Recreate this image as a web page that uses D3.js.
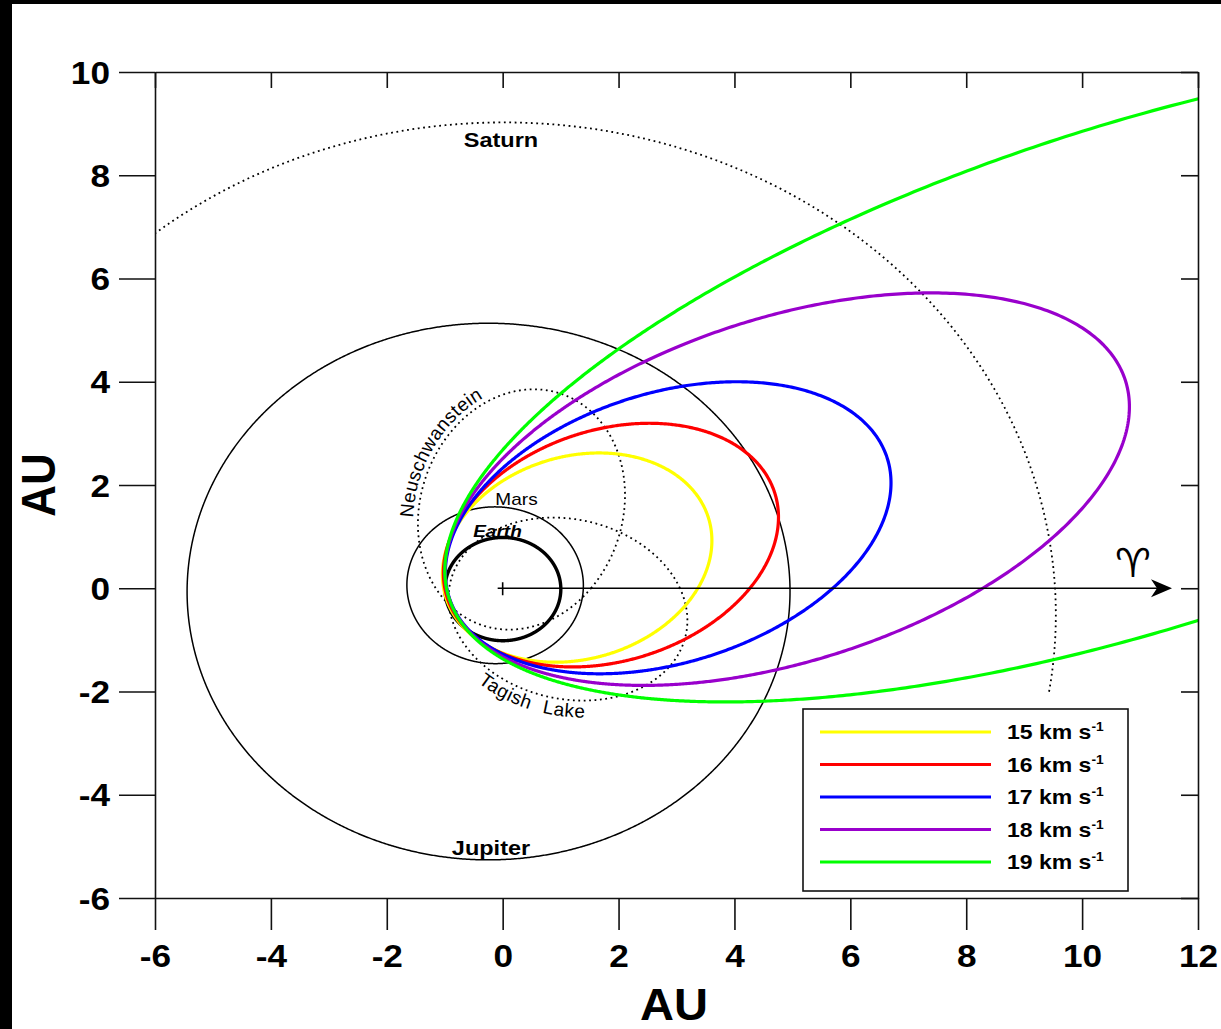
<!DOCTYPE html>
<html><head><meta charset="utf-8">
<script src="https://cdn.jsdelivr.net/npm/d3@7"></script>
<style>
body{margin:0;background:#fff;}
svg{display:block;}
text{font-family:"Liberation Sans",Arial,Helvetica,sans-serif;fill:#000;}
</style>
</head><body>
<svg id="c" width="1221" height="1029"></svg>
<script>
// ---------- data ----------
const xTicks = [-6,-4,-2,0,2,4,6,8,10,12];
const yTicks = [-6,-4,-2,0,2,4,6,8,10];
// planets: semi-major axis (AU), eccentricity, longitude of perihelion (deg)
const planetNames = ["Earth","Mars","Jupiter","Saturn"];
const planetA = [1.000, 1.524, 5.203, 9.537];
const planetE = [0.0167, 0.0934, 0.0484, 0.0539];
const planetPeri = [102.9, 336.0, 14.7, 92.6];
const saturnArc = [-12, 135]; // heliocentric longitudes (deg) of the drawn Saturn arc
// meteorite orbits
const meteoriteNames = ["Neuschwanstein","Tagish Lake"];
const meteoriteA = [2.35, 2.10];
const meteoriteE = [0.664, 0.57];
const meteoritePeri = [258.0, 160.3];
// orbits for entry speeds
const speedValues = [15,16,17,18,19];
const speedA = [2.40, 3.01, 4.02, 6.21, 12.7];
const speedE = [0.59, 0.68, 0.768, 0.849, 0.926];
const speedPeri = [204.8, 204.1, 202.3, 201.35, 200.5];
// styles
const speedColors = ["#ffff00","#ff0000","#0000ff","#9900cc","#00ff00"];

// ---------- setup ----------
const svg = d3.select("#c");
const W = 1221, H = 1029;
const L = 155, R = 1198, T = 72, B = 898;
const x = d3.scaleLinear().domain([-6,12]).range([L,R]);
const y = d3.scaleLinear().domain([-6,10]).range([B,T]);

svg.append("rect").attr("width",W).attr("height",H).attr("fill","#fff");
// black frame remnants
svg.append("rect").attr("x",0).attr("y",0).attr("width",12).attr("height",H).attr("fill","#000");
svg.append("rect").attr("x",0).attr("y",0).attr("width",W).attr("height",4).attr("fill","#000");

svg.append("defs").append("clipPath").attr("id","plotclip")
  .append("rect").attr("x",L).attr("y",T).attr("width",R-L).attr("height",B-T);

function orbitPts(a,e,peri,t0,t1,n){
  t0 = t0===undefined?0:t0; t1 = t1===undefined?360:t1; n = n||1440;
  const p = a*(1-e*e), w = peri*Math.PI/180, pts=[];
  for(let i=0;i<=n;i++){
    const th = (t0+(t1-t0)*i/n)*Math.PI/180;
    const r = p/(1+e*Math.cos(th-w));
    pts.push([r*Math.cos(th), r*Math.sin(th)]);
  }
  return pts;
}
const line = d3.line().x(d=>x(d[0])).y(d=>y(d[1]));

const g = svg.append("g").attr("clip-path","url(#plotclip)");

// planets
planetNames.forEach((nm,i)=>{
  let pts;
  if(nm==="Saturn") pts = orbitPts(planetA[i],planetE[i],planetPeri[i],saturnArc[0],saturnArc[1],600);
  else pts = orbitPts(planetA[i],planetE[i],planetPeri[i]);
  const path = g.append("path").attr("d",line(pts)).attr("fill","none").attr("stroke","#000");
  if(nm==="Earth") path.attr("stroke-width",3.4);
  else if(nm==="Saturn") path.attr("stroke-width",1.8).attr("stroke-dasharray","1.8,3.6");
  else path.attr("stroke-width",1.5);
});
// meteorite orbits (dotted)
meteoriteNames.forEach((nm,i)=>{
  g.append("path").attr("d",line(orbitPts(meteoriteA[i],meteoriteE[i],meteoritePeri[i])))
   .attr("fill","none").attr("stroke","#000").attr("stroke-width",1.8).attr("stroke-dasharray","1.8,3.6");
});

// offset path for curved labels
function offsetPath(a,e,peri,t0,t1,off){
  const pts = orbitPts(a,e,peri,t0,t1,200).map(d=>[x(d[0]),y(d[1])]);
  const cx = x(-a*e*Math.cos(peri*Math.PI/180)), cy = y(-a*e*Math.sin(peri*Math.PI/180));
  const out = pts.map((p,k)=>{
    const p0 = pts[Math.max(0,k-1)], p1 = pts[Math.min(pts.length-1,k+1)];
    let tx = p1[0]-p0[0], ty = p1[1]-p0[1]; const tl = Math.hypot(tx,ty)||1; tx/=tl; ty/=tl;
    let nx = -ty, ny = tx;
    if(nx*(p[0]-cx)+ny*(p[1]-cy) < 0){nx=-nx; ny=-ny;}
    return [p[0]+nx*off, p[1]+ny*off];
  });
  return d3.line()(out);
}
const defs = svg.select("defs");
defs.append("path").attr("id","neuPath").attr("d",offsetPath(meteoriteA[0],meteoriteE[0],meteoritePeri[0],137,40,5));
defs.append("path").attr("id","tagPath").attr("d",offsetPath(meteoriteA[1],meteoriteE[1],meteoritePeri[1],261,330,17));

// speed orbits
speedValues.forEach((v,i)=>{
  g.append("path").attr("d",line(orbitPts(speedA[i],speedE[i],speedPeri[i]))+"Z")
   .attr("fill","none").attr("stroke",speedColors[i]).attr("stroke-width",3.2);
});

// vernal equinox arrow and sun
svg.append("line").attr("x1",x(0)-5).attr("x2",1160).attr("y1",y(0)).attr("y2",y(0))
  .attr("stroke","#000").attr("stroke-width",1.6);
svg.append("line").attr("x1",x(0)).attr("x2",x(0)).attr("y1",y(0)-6).attr("y2",y(0)+7)
  .attr("stroke","#000").attr("stroke-width",1.6);
svg.append("path").attr("d",`M1172,${y(0)} L1151,${y(0)-9} L1157,${y(0)} L1151,${y(0)+9} Z`).attr("fill","#000");
svg.append("text").attr("x",1133).attr("y",577).attr("text-anchor","middle")
  .style("font-family","'DejaVu Sans',sans-serif").style("font-size","40px").text("\u2648\uFE0E");

// labels on orbits
function stretchedText(px,py,str,size,weight,style,anchor){
  const t = svg.append("g").attr("transform",`translate(${px},${py}) scale(1.12,1)`)
    .append("text").attr("text-anchor",anchor||"middle")
    .style("font-size",size+"px").style("font-weight",weight||"normal").style("font-style",style||"normal").text(str);
  return t;
}
stretchedText(501,147,"Saturn",21,"bold");
stretchedText(491,855,"Jupiter",21,"bold");
stretchedText(516.5,505,"Mars",17,"normal");
stretchedText(497.5,537,"Earth",17,"bold","italic");

svg.append("text").style("font-size","19px").style("letter-spacing","0.4px")
  .append("textPath").attr("href","#neuPath").text("Neuschwanstein");
svg.append("text").style("font-size","19px").style("letter-spacing","0.6px").style("word-spacing","7px")
  .append("textPath").attr("href","#tagPath").text("Tagish Lake");

// ---------- axes ----------
const fmt = d=>String(d);
const axB = svg.append("g").attr("transform",`translate(0,${B})`)
  .call(d3.axisBottom(x).tickValues(xTicks).tickSizeInner(32).tickSizeOuter(0).tickFormat(fmt));
const axT = svg.append("g").attr("transform",`translate(0,${T})`)
  .call(d3.axisTop(x).tickValues(xTicks).tickSizeInner(-16).tickSizeOuter(0).tickFormat(""));
const axL = svg.append("g").attr("transform",`translate(${L},0)`)
  .call(d3.axisLeft(y).tickValues(yTicks).tickSizeInner(36).tickSizeOuter(0).tickFormat(fmt));
const axR = svg.append("g").attr("transform",`translate(${R},0)`)
  .call(d3.axisRight(y).tickValues(yTicks).tickSizeInner(-17).tickSizeOuter(0).tickFormat(""));
[axB,axT,axL,axR].forEach(a=>{
  a.selectAll("path,line").attr("stroke","#111").attr("stroke-width",1.6);
  a.selectAll("text").style("font-family","'Liberation Sans',Arial,sans-serif")
    .style("font-size","32px").style("font-weight","bold").attr("fill","#000");
});
axB.selectAll(".tick text").attr("y",46).attr("dy","0.71em").attr("transform","scale(1.1,1)");
axL.selectAll(".tick text").attr("x",-45/1.1).attr("dy","0.35em").attr("transform","scale(1.1,1)");
axT.selectAll("text").remove(); axR.selectAll("text").remove();

// axis titles
svg.append("g").attr("transform","translate(674,1020) scale(1.07,1)")
  .append("text").attr("text-anchor","middle").style("font-size","44px").style("font-weight","bold").text("AU");
svg.append("g").attr("transform","translate(55,485) rotate(-90) scale(1,1.1)")
  .append("text").attr("text-anchor","middle").style("font-size","44px").style("font-weight","bold").text("AU");

// ---------- legend ----------
const lg = svg.append("g");
lg.append("rect").attr("x",803).attr("y",709).attr("width",325).attr("height",182)
  .attr("fill","#fff").attr("stroke","#111").attr("stroke-width",1.6);
const rowY = d3.scalePoint().domain(speedValues).range([732,862]);
speedValues.forEach((v,i)=>{
  lg.append("line").attr("x1",820).attr("x2",991).attr("y1",rowY(v)).attr("y2",rowY(v))
    .attr("stroke",speedColors[i]).attr("stroke-width",3);
  const t = lg.append("g").attr("transform",`translate(1007,${rowY(v)+7}) scale(1.15,1)`)
    .append("text").style("font-size","20px").style("font-weight","bold");
  t.append("tspan").text(v+" km s");
  t.append("tspan").attr("dy",-8).style("font-size","12px").text("-1");
});
</script>
</body></html>
